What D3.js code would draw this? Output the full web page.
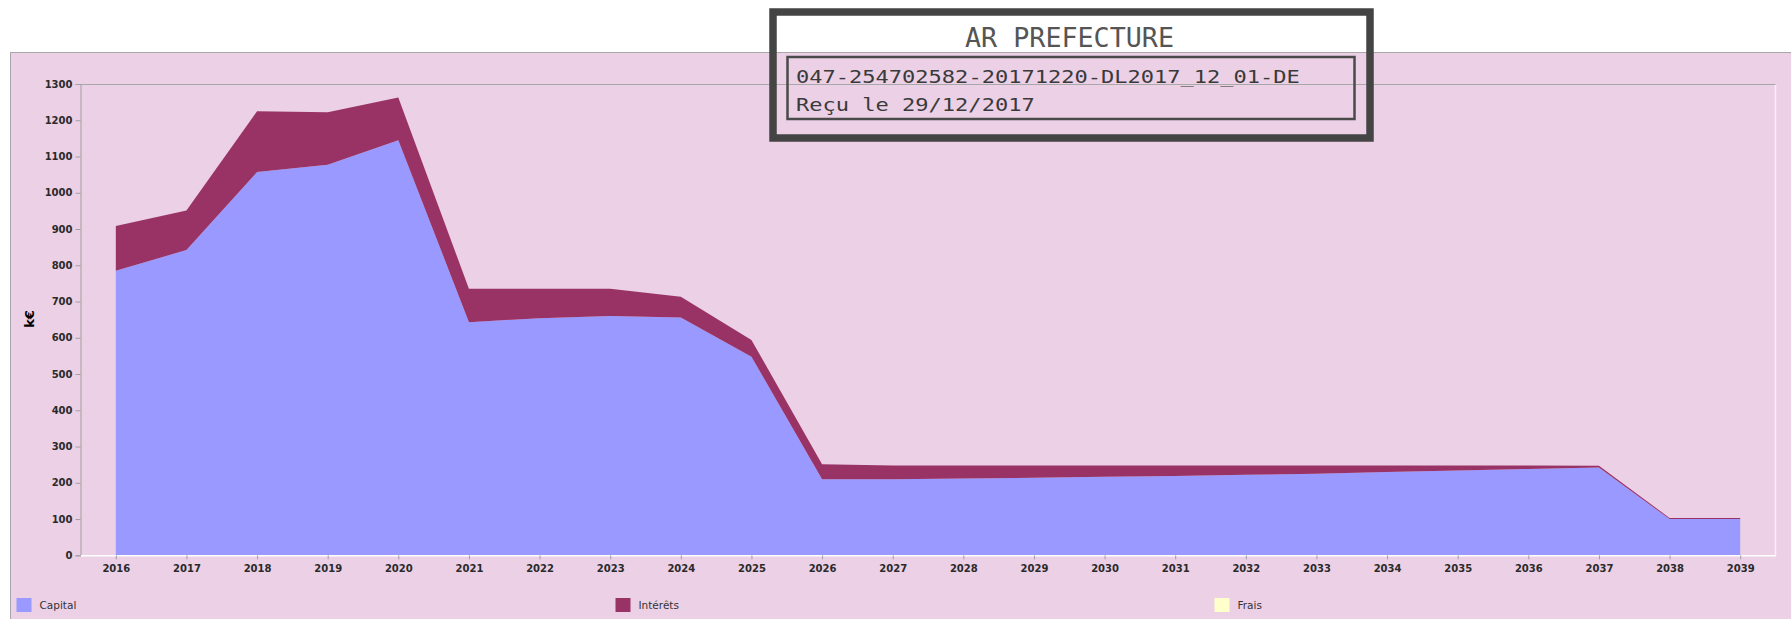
<!DOCTYPE html>
<html>
<head>
<meta charset="utf-8">
<script src="https://cdn.jsdelivr.net/npm/d3@7/dist/d3.min.js"></script>
<style>
  body { margin: 0; background: #fff; }
  svg { display: block; }
</style>
</head>
<body>
<div id="chart"></div>
<script>
// Annuités de la dette (k€)
var years = [2016, 2017, 2018, 2019, 2020, 2021, 2022, 2023, 2024, 2025, 2026, 2027,
             2028, 2029, 2030, 2031, 2032, 2033, 2034, 2035, 2036, 2037, 2038, 2039];
var capital = [785, 842, 1057, 1077, 1145, 643, 654, 660, 656, 548, 210, 210,
               212, 214, 217, 219, 222, 225, 230, 234, 238, 242, 100, 100];
var interets = [123, 109, 168, 145, 118, 92, 81, 75, 57, 46, 41, 38,
                36, 34, 31, 29, 26, 23, 18, 14, 10, 5, 3, 3];
var frais = [0, 0, 0, 0, 0, 0, 0, 0, 0, 0, 0, 0,
             0, 0, 0, 0, 0, 0, 0, 0, 0, 0, 0, 0];
var yTicks = [0, 100, 200, 300, 400, 500, 600, 700, 800, 900, 1000, 1100, 1200, 1300];
var seriesNames = ["Capital", "Intérêts", "Frais"];
var seriesColors = ["#9999FF", "#993366", "#FFFFCC"];
var yLabel = "k€";
var stampTitle = "AR PREFECTURE";
var stampLines = ["047-254702582-20171220-DL2017_12_01-DE", "Reçu le 29/12/2017"];

var width = 1791;
var height = 619;
var bg = "#EBD0E6";

var plot = { left: 80.5, right: 1775.5, top: 84, bottom: 555.3 };

var svg = d3.select("#chart")
  .append("svg")
  .attr("width", width)
  .attr("height", height);

// panneau rose
svg.append("rect")
  .attr("x", 10.5).attr("y", 52.5)
  .attr("width", width).attr("height", height)
  .attr("fill", bg)
  .attr("stroke", "#a8a8a8")
  .attr("stroke-width", 1);

var x = d3.scalePoint()
  .domain(years)
  .range([plot.left, plot.right])
  .padding(0.5);

var y = d3.scaleLinear()
  .domain([0, 1300])
  .range([plot.bottom, plot.top]);

// table pour le stack
var table = years.map(function(yr, i) {
  return { year: yr, Capital: capital[i], "Intérêts": interets[i], Frais: frais[i] };
});

var stack = d3.stack().keys(seriesNames);
var layers = stack(table);

var area = d3.area()
  .x(function(d) { return x(d.data.year); })
  .y0(function(d) { return y(d[0]); })
  .y1(function(d) { return y(d[1]); });

svg.append("g")
  .selectAll("path")
  .data(layers)
  .enter()
  .append("path")
  .attr("d", area)
  .attr("fill", function(d, i) { return seriesColors[i]; });

// cadre du graphique : haut gris, droite blanche
svg.append("line")
  .attr("x1", plot.left).attr("x2", plot.right)
  .attr("y1", plot.top + 0.5).attr("y2", plot.top + 0.5)
  .attr("stroke", "#a8a8a8");
svg.append("line")
  .attr("x1", plot.right).attr("x2", plot.right)
  .attr("y1", plot.top + 1).attr("y2", plot.bottom)
  .attr("stroke", "#f7f0f6")
  .attr("stroke-width", 1.5);

var tickFont = "'DejaVu Sans', Verdana, sans-serif";

var yAxis = svg.append("g")
  .attr("transform", "translate(" + plot.left + ",0)")
  .call(d3.axisLeft(y).tickValues(yTicks).tickFormat(d3.format("d")).tickSize(5).tickPadding(3));

var xAxis = svg.append("g")
  .attr("transform", "translate(0," + plot.bottom + ")")
  .call(d3.axisBottom(x).tickSize(4).tickPadding(6).tickSizeOuter(0));

yAxis.select(".domain").attr("stroke", "#a0a0a0");
xAxis.select(".domain").attr("stroke", "#ffffff").attr("stroke-width", 1.5);
svg.selectAll(".tick line").attr("stroke", "#a0a0a0");
svg.selectAll(".tick text")
  .attr("fill", "#2a2a2a")
  .style("font-family", tickFont)
  .style("font-size", "10px")
  .style("font-weight", "bold");

// titre axe y
svg.append("text")
  .attr("transform", "translate(34,319) rotate(-90)")
  .attr("text-anchor", "middle")
  .style("font-family", tickFont)
  .style("font-size", "13px")
  .style("font-weight", "bold")
  .attr("fill", "#000")
  .text(yLabel);

// légende
var legendX = d3.scaleLinear().domain([0, 1]).range([16.5, 615.5]);
var legend = svg.append("g")
  .selectAll("g")
  .data(seriesNames)
  .enter()
  .append("g")
  .attr("transform", function(d, i) { return "translate(" + legendX(i) + ",598)"; });

legend.append("rect")
  .attr("width", 15).attr("height", 14)
  .attr("fill", function(d, i) { return seriesColors[i]; });

legend.append("text")
  .attr("x", 23).attr("y", 11)
  .style("font-family", tickFont)
  .style("font-size", "10.5px")
  .attr("fill", "#333")
  .text(function(d) { return d; });

// tampon AR PREFECTURE
var stamp = svg.append("g");
stamp.append("rect")
  .attr("x", 773).attr("y", 12)
  .attr("width", 597).attr("height", 126)
  .attr("fill", "none")
  .attr("stroke", "#444")
  .attr("stroke-width", 7.5);
stamp.append("rect")
  .attr("x", 787.5).attr("y", 57)
  .attr("width", 567).attr("height", 62)
  .attr("fill", "none")
  .attr("stroke", "#4a4a4a")
  .attr("stroke-width", 2.5);
stamp.append("text")
  .attr("x", 1069.5).attr("y", 47)
  .attr("text-anchor", "middle")
  .attr("textLength", 209)
  .attr("lengthAdjust", "spacingAndGlyphs")
  .style("font-family", "'DejaVu Sans Mono', monospace")
  .style("font-size", "27px")
  .attr("fill", "#555")
  .text(stampTitle);
stamp.selectAll("text.line")
  .data(stampLines)
  .enter()
  .append("text")
  .attr("class", "line")
  .attr("x", 796)
  .attr("y", function(d, i) { return 82.5 + i * 28.5; })
  .attr("textLength", function(d) { return d.length * 13.26; })
  .attr("lengthAdjust", "spacingAndGlyphs")
  .style("font-family", "'DejaVu Sans Mono', monospace")
  .style("font-size", "18px")
  .attr("fill", "#3a3a3a")
  .text(function(d) { return d; });
</script>
</body>
</html>
